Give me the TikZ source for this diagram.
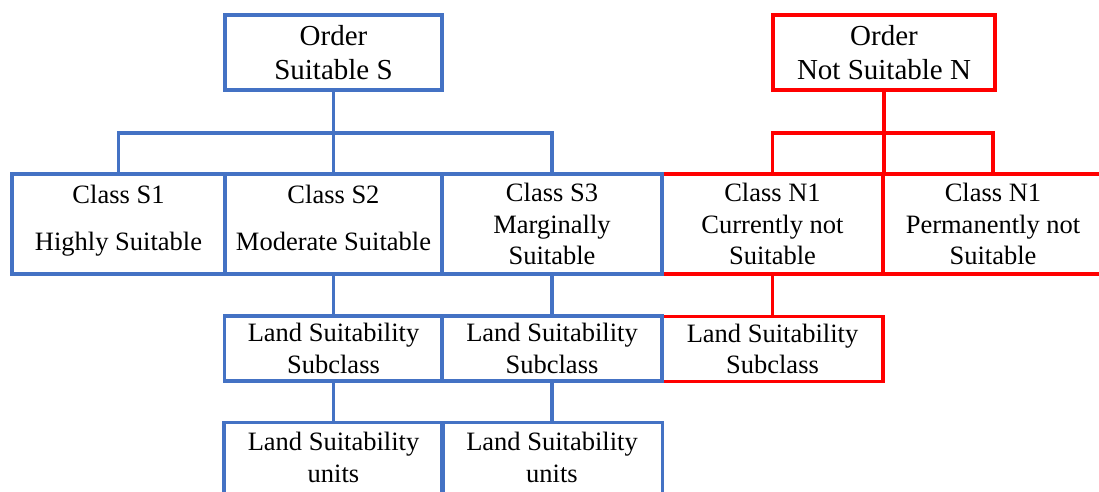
\documentclass[tikz,border=0pt]{standalone}
\usepackage{fontspec}
\setmainfont{Liberation Serif}
\usepackage{xcolor}
\definecolor{boxblue}{HTML}{4472C4}
\definecolor{boxred}{HTML}{FF0000}

\begin{document}
\begin{tikzpicture}[x=0.5pt,y=-0.5pt,
  sbox/.style={draw=boxblue,line width=1.75pt,inner sep=0pt,align=center,
    font=\fontsize{13.25}{15.75}\selectfont},
  nbox/.style={sbox,draw=boxred},
  obox/.style={font=\fontsize{14.5}{16.7}\selectfont},
  ubox/.style={inner sep=0pt,align=center,font=\fontsize{13.25}{15.75}\selectfont},
  sline/.style={draw=boxblue,line width=1.75pt},
  nline/.style={draw=boxred,line width=1.75pt}]

\useasboundingbox (0,0) rectangle (1099,492);
\clip (0,0) rectangle (1099,492);

%%%%%%%%%%%%%%% not suitable

\node[nbox,obox,minimum width=111pt,minimum height=37.5pt] (oN) at (884,52.5) {Order\\Not Suitable N};

\node[nbox,minimum width=110.5pt,minimum height=50pt] (n1a) at (772.5,224) {Class N1\\Currently not\\Suitable};
\node[nbox,minimum width=110pt,minimum height=50pt] (n1b) at (993,224) {Class N1\\Permanently not\\Suitable};

\node[nbox,minimum width=110.5pt,minimum height=32.5pt] (nsub) at (772.5,349) {Land Suitability\\Subclass};

\coordinate (busN) at (884,133);

\draw[nline] (n1a.north) |- (n1b.north |- busN) -- (n1b.north);
\draw[nline] (oN.south) -- (oN.south |- n1a.north);
\draw[nline] (n1a.south) -- (nsub.north);

%%%%%%%%%%%%%%% suitable

\node[sbox,obox,minimum width=108.5pt,minimum height=37.5pt] (oS) at (333.5,52.5) {Order\\Suitable S};

\node[sbox,text depth=6.2pt,minimum width=106.5pt,minimum height=50pt] (s1) at (118.5,224) {Class S1\\[8pt]Highly Suitable};
\node[sbox,text depth=6.2pt,minimum width=108.5pt,minimum height=50pt] (s2) at (333.5,224) {Class S2\\[8pt]Moderate Suitable};
\node[sbox,minimum width=110pt,minimum height=50pt] (s3) at (552,224) {Class S3\\Marginally\\Suitable};

\node[sbox,minimum width=109pt,minimum height=32.5pt] (ssub2) at (333.5,348.5) {Land Suitability\\Subclass};
\node[sbox,minimum width=110pt,minimum height=32.5pt] (ssub3) at (552,348.5) {Land Suitability\\Subclass};

\node[ubox,minimum width=109pt,minimum height=34.5pt] (su2) at (333.5,457.5) {Land Suitability\\units};
\node[ubox,minimum width=110pt,minimum height=34.5pt] (su3) at (552,457.5) {Land Suitability\\units};

\draw[sline] (su2.south west) -- (su2.north west) -- (su2.north east) -- (su2.south east);
\draw[sline] (su3.south west) -- (su3.north west) -- (su3.north east) -- (su3.south east);

\coordinate (busS) at (333.5,133);

\draw[sline] (s1.north) |- (s3.north |- busS) -- (s3.north);
\draw[sline] (oS.south) -- (s2.north);

\draw[sline] (s2.south) -- (ssub2.north);
\draw[sline] (s3.south) -- (ssub3.north);
\draw[sline] (ssub2.south) -- (su2.north);
\draw[sline] (ssub3.south) -- (su3.north);

\end{tikzpicture}
\end{document}
